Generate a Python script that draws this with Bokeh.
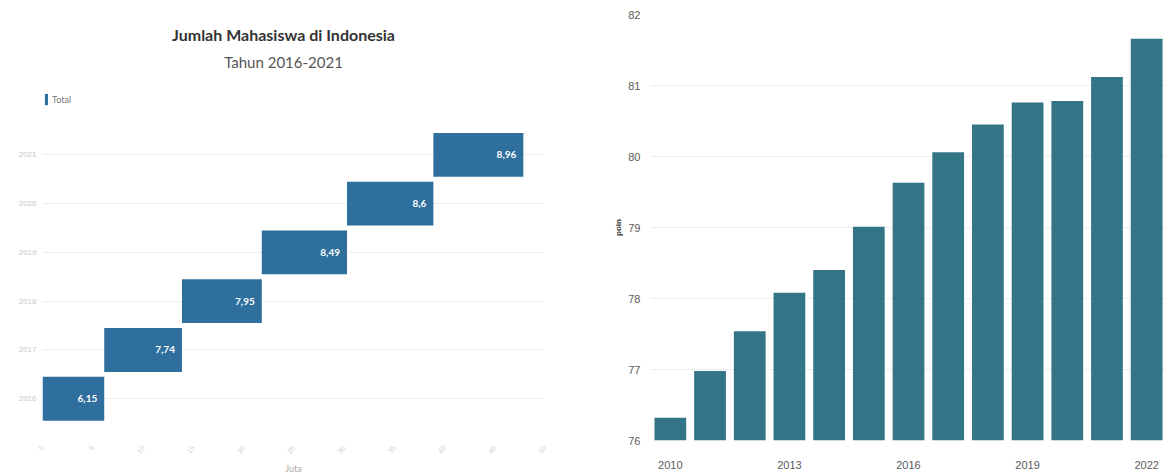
from bokeh.plotting import figure
from bokeh.layouts import row
from bokeh.models import (ColumnDataSource, Range1d, FixedTicker,
                          Label, Legend, LegendItem)
from bokeh.core.properties import value
from bokeh.embed import file_html
from bokeh.resources import INLINE

# ---- Jumlah mahasiswa (juta), 2016-2021 ----
student_years = ["2016", "2017", "2018", "2019", "2020", "2021"]
student_totals = [6.15, 7.74, 7.95, 8.49, 8.6, 8.96]

# ---- Indeks per tahun, 2010-2022 ----
index_years = [2010, 2011, 2012, 2013, 2014, 2015, 2016,
               2017, 2018, 2019, 2020, 2021, 2022]
index_values = [76.32, 76.98, 77.54, 78.08, 78.40, 79.01, 79.63,
                80.06, 80.45, 80.76, 80.78, 81.12, 81.66]

LEFT_BLUE = "#2f6f9e"
RIGHT_TEAL = "#337587"
TITLE_FONT = "Lato"
TICK_FONT = "Liberation Sans"

# ---------------- left chart: cumulative floating bars ----------------
ends = []
acc = 0.0
for v in student_totals:
    acc += v
    ends.append(acc)
starts = [e - v for e, v in zip(ends, student_totals)]
labels = [f"{v:g}".replace(".", ",") for v in student_totals]
rows = list(range(len(student_years)))

src_left = ColumnDataSource(dict(row=rows, year=student_years, start=starts,
                                 end=ends, total=student_totals, label=labels))

# the plot frame spans the full height; the years occupy its lower part and
# the title block sits in the free space above them
left = figure(width=580, height=476, output_backend="svg", toolbar_location=None,
              y_range=Range1d(-0.857, 7.878), x_range=Range1d(0, 50),
              min_border_left=42, min_border_right=36,
              min_border_top=14, min_border_bottom=34)
left.outline_line_color = None

bars = left.hbar(y="row", left="start", right="end", height=0.9,
                 source=src_left, fill_color=LEFT_BLUE, line_color=None)
left.text(x="end", y="row", text="label", source=src_left,
          x_offset=-7, text_align="right", text_baseline="middle",
          text_color="white", text_font=value(TITLE_FONT),
          text_font_style="bold", text_font_size="10px")

left.xgrid.grid_line_color = None
left.ygrid.grid_line_color = "#eeeeee"
left.yaxis.ticker = FixedTicker(ticks=rows)
left.yaxis.major_label_overrides = {r: y for r, y in zip(rows, student_years)}
left.xaxis.ticker = FixedTicker(ticks=list(range(0, 51, 5)))
left.xaxis.major_label_orientation = 0.95
left.xaxis.axis_line_color = None
left.xaxis.major_tick_line_color = None
left.xaxis.minor_tick_line_color = None
left.xaxis.major_label_text_color = "#cfcfcf"
left.xaxis.major_label_text_font_size = "7px"
left.xaxis.major_label_standoff = 0
left.xaxis.axis_label = "Juta"
left.xaxis.axis_label_text_color = "#aaaaaa"
left.xaxis.axis_label_text_font_style = "normal"
left.xaxis.axis_label_text_font_size = "9px"
left.xaxis.axis_label_text_font = TITLE_FONT
left.xaxis.axis_label_standoff = 4

left.yaxis.axis_line_color = None
left.yaxis.major_tick_line_color = None
left.yaxis.minor_tick_line_color = None
left.yaxis.major_label_text_color = "#c8c8c8"
left.yaxis.major_label_text_font_size = "8px"
left.yaxis.major_label_standoff = 0

FRAME_BOTTOM = 476 - 34
left.add_layout(Label(x=241, y=FRAME_BOTTOM - 36, x_units="screen", y_units="screen",
                      text="Jumlah Mahasiswa di Indonesia", text_align="center",
                      text_baseline="middle", text_font=TITLE_FONT,
                      text_font_style="bold", text_font_size="16px",
                      text_color="#333333"))
left.add_layout(Label(x=241, y=FRAME_BOTTOM - 63, x_units="screen", y_units="screen",
                      text="Tahun 2016-2021", text_align="center",
                      text_baseline="middle", text_font=TITLE_FONT,
                      text_font_size="15px", text_color="#555555"))

legend = Legend(items=[LegendItem(label="Total", renderers=[bars])],
                location=(2, FRAME_BOTTOM - 108), orientation="horizontal",
                glyph_width=4, glyph_height=14, padding=0, margin=0,
                label_standoff=4, label_text_font_size="9px",
                label_text_color="#777777", label_text_font=TITLE_FONT,
                border_line_color=None, background_fill_alpha=0)
left.add_layout(legend, "center")

# ---------------- right chart: vertical bars ----------------
src_right = ColumnDataSource(dict(year=index_years, val=index_values))

right = figure(width=586, height=476, output_backend="svg", toolbar_location=None,
               x_range=Range1d(2009.5, 2022.5), y_range=Range1d(76, 82),
               min_border_left=70, min_border_right=0,
               min_border_top=14, min_border_bottom=34)
right.outline_line_color = None
right.vbar(x="year", top="val", bottom=76, width=0.8, source=src_right,
           fill_color=RIGHT_TEAL, line_color=None)

right.xgrid.grid_line_color = None
right.ygrid.grid_line_color = "#eeeeee"
right.xaxis.ticker = FixedTicker(ticks=[2010, 2013, 2016, 2019, 2022])
right.yaxis.ticker = FixedTicker(ticks=[76, 77, 78, 79, 80, 81, 82])
for ax in (right.xaxis, right.yaxis):
    ax.axis_line_color = None
    ax.major_tick_line_color = None
    ax.minor_tick_line_color = None
    ax.major_label_text_color = "#5a5a5a"
    ax.major_label_text_font = TICK_FONT
    ax.major_label_text_font_size = "11px"
right.xaxis.major_label_standoff = 14
right.yaxis.major_label_standoff = 4
right.yaxis.axis_label = "poin"
right.yaxis.axis_label_text_font_size = "8px"
right.yaxis.axis_label_text_font_style = "bold"
right.yaxis.axis_label_text_color = "#333333"
right.yaxis.axis_label_standoff = 2

layout = row(left, right)
open("out.html", "w").write(file_html(layout, INLINE))
